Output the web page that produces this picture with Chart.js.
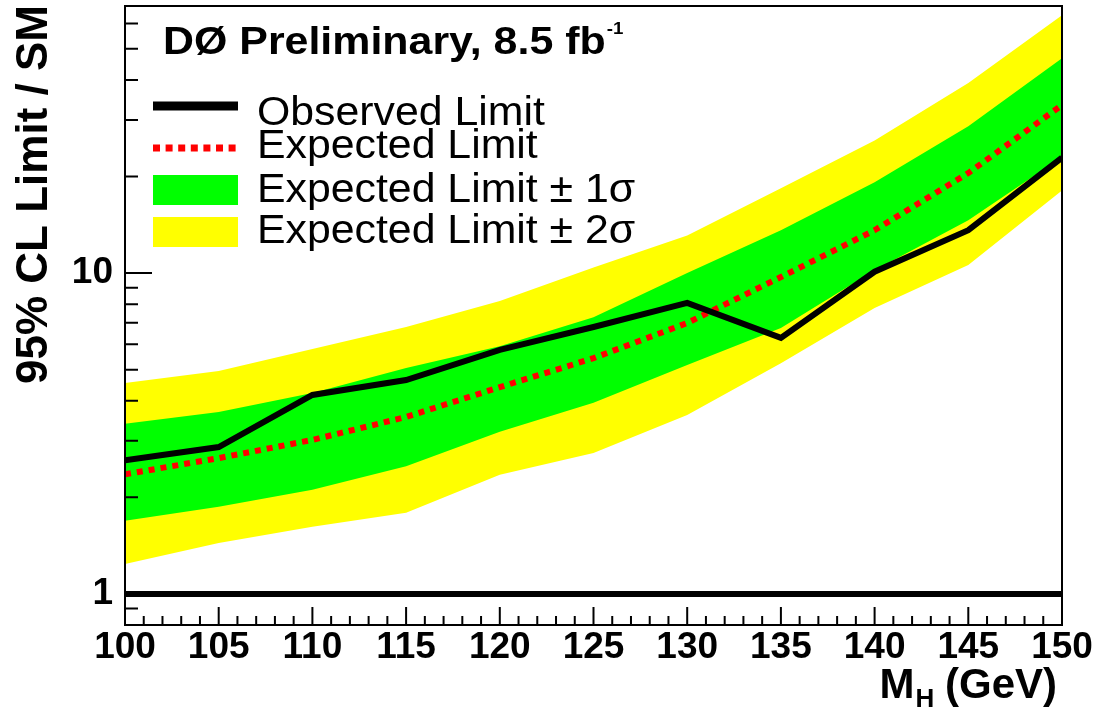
<!DOCTYPE html>
<html>
<head>
<meta charset="utf-8">
<script src="https://cdn.jsdelivr.net/npm/chart.js@4.4.1/dist/chart.umd.min.js"></script>
<style>
  html, body { margin: 0; padding: 0; background: #fff; }
  #wrap { width: 1097px; height: 708px; }
</style>
</head>
<body>
<div id="wrap"><canvas id="limitChart"></canvas></div>
<script>
// Higgs mass points (GeV) and 95% CL limits / SM
const massPoints    = [100, 105, 110, 115, 120, 125, 130, 135, 140, 145, 150];
const observedLimit = [2.61, 2.87, 4.17, 4.64, 5.76, 6.79, 8.07, 6.28, 10.1, 13.6, 22.9];
const expectedLimit = [2.36, 2.65, 3.02, 3.56, 4.41, 5.43, 6.99, 9.72, 13.6, 20.5, 33.4];
const plusOneSigma  = [3.39, 3.69, 4.23, 5.06, 5.92, 7.29, 10.0, 13.6, 19.2, 28.7, 46.7];
const minusOneSigma = [1.69, 1.87, 2.11, 2.50, 3.20, 3.94, 5.17, 6.74, 10.2, 14.6, 23.0];
const plusTwoSigma  = [4.54, 4.95, 5.80, 6.79, 8.18, 10.4, 13.1, 18.4, 25.9, 39.1, 63.6];
const minusTwoSigma = [1.24, 1.44, 1.62, 1.79, 2.35, 2.75, 3.61, 5.24, 7.78, 10.6, 18.1];
const smLine = [1, 1];
const smRange = [100, 150];
const yTickLabels = [1, 10];

const FONT = "'Liberation Sans', Arial, Helvetica, sans-serif";

function pts(values, xs = massPoints) {
  return values.map((v, i) => ({ x: xs[i], y: v }));
}

// ROOT-like frame, inward ticks, titles and legend
const rootStyle = {
  id: 'rootStyle',
  afterDraw(chart) {
    const { ctx, chartArea: a, scales: { x, y } } = chart;
    const ds = chart.data.datasets;
    ctx.save();

    // frame
    ctx.strokeStyle = '#000';
    ctx.lineWidth = 2;
    ctx.strokeRect(a.left, a.top, a.right - a.left, a.bottom - a.top);

    // x ticks (inward, every 1 GeV, major every 5)
    ctx.beginPath();
    for (let m = x.min; m <= x.max; m++) {
      const px = x.getPixelForValue(m);
      const len = m % 5 === 0 ? 18 : 9;
      ctx.moveTo(px, a.bottom);
      ctx.lineTo(px, a.bottom - len);
    }
    // y ticks (log decades)
    [0.1, 1, 10].forEach(dec => {
      for (let k = 1; k <= 9; k++) {
        const v = k * dec;
        if (v < y.min || v > y.max) continue;
        const py = y.getPixelForValue(v);
        const len = k === 1 ? 27 : 13;
        ctx.moveTo(a.left, py);
        ctx.lineTo(a.left + len, py);
      }
    });
    ctx.stroke();

    ctx.fillStyle = '#000';
    // y title
    ctx.save();
    ctx.translate(47, a.top - 1);
    ctx.rotate(-Math.PI / 2);
    ctx.font = `bold 44px ${FONT}`;
    ctx.textAlign = 'right';
    ctx.textBaseline = 'alphabetic';
    ctx.fillText('95% CL Limit / SM', 0, 0);
    ctx.restore();

    // x title M_H (GeV)
    ctx.textBaseline = 'alphabetic';
    ctx.textAlign = 'left';
    ctx.font = `bold 42px ${FONT}`;
    const wM = ctx.measureText('M').width;
    const wRest = ctx.measureText(' (GeV)').width;
    ctx.font = `bold 26px ${FONT}`;
    const wH = ctx.measureText('H').width;
    let tx = 1057 - wM - wH - wRest;
    ctx.font = `bold 42px ${FONT}`;
    ctx.fillText('M', tx, 698);
    ctx.font = `bold 26px ${FONT}`;
    ctx.fillText('H', tx + wM + 1, 707);
    ctx.font = `bold 42px ${FONT}`;
    ctx.fillText(' (GeV)', tx + wM + wH, 698);

    // header
    ctx.save();
    ctx.translate(163, 54);
    ctx.scale(1.1, 1);
    ctx.font = `bold 39px ${FONT}`;
    ctx.fillText('D\u00D8 Preliminary, 8.5 fb', 0, 0);
    const wHead = ctx.measureText('D\u00D8 Preliminary, 8.5 fb').width;
    ctx.font = `bold 17px ${FONT}`;
    ctx.fillText('-1', wHead + 1, -20);
    ctx.restore();

    // legend
    const x0 = 153, x1 = 238, tx0 = 257;
    ctx.lineCap = 'butt';
    ctx.strokeStyle = ds[0].borderColor;
    ctx.lineWidth = 9;
    ctx.beginPath(); ctx.moveTo(x0, 106); ctx.lineTo(x1, 106); ctx.stroke();
    ctx.strokeStyle = ds[1].borderColor;
    ctx.lineWidth = 7;
    ctx.setLineDash([7, 5.6]);
    ctx.beginPath(); ctx.moveTo(x0, 148); ctx.lineTo(x1, 148); ctx.stroke();
    ctx.setLineDash([]);
    ctx.fillStyle = ds[2].backgroundColor;
    ctx.fillRect(x0, 175, x1 - x0, 30);
    ctx.fillStyle = ds[4].backgroundColor;
    ctx.fillRect(x0, 217, x1 - x0, 30);

    ctx.fillStyle = '#000';
    const rows = [[ds[0].label, 125], [ds[1].label, 158], [ds[2].label, 202], [ds[4].label, 243]];
    rows.forEach(([txt, by]) => {
      ctx.save();
      ctx.translate(tx0, by);
      ctx.scale(1.07, 1);
      ctx.font = `40px ${FONT}`;
      ctx.fillText(txt, 0, 0);
      ctx.restore();
    });

    ctx.restore();
  }
};

function limitChart() {
  const canvas = document.getElementById('limitChart');

  new Chart(canvas, {
    type: 'line',
    data: {
      datasets: [{
        label: 'Observed Limit',
        data: pts(observedLimit),
        borderColor: '#000000',
        borderWidth: 6,
        borderJoinStyle: 'miter',
        pointRadius: 0,
        fill: false
      }, {
        label: 'Expected Limit',
        data: pts(expectedLimit),
        borderColor: '#ff0000',
        borderWidth: 6,
        borderDash: [6, 6],
        borderCapStyle: 'butt',
        pointRadius: 0,
        fill: false
      }, {
        label: 'Expected Limit \u00B1 1\u03C3',
        data: pts(plusOneSigma),
        borderWidth: 0,
        backgroundColor: '#00ff00',
        pointRadius: 0,
        fill: 3
      }, {
        label: '-1 sigma',
        data: pts(minusOneSigma),
        borderWidth: 0,
        pointRadius: 0,
        fill: false
      }, {
        label: 'Expected Limit \u00B1 2\u03C3',
        data: pts(plusTwoSigma),
        borderWidth: 0,
        backgroundColor: '#ffff00',
        pointRadius: 0,
        fill: 5
      }, {
        label: '-2 sigma',
        data: pts(minusTwoSigma),
        borderWidth: 0,
        pointRadius: 0,
        fill: false
      }, {
        label: 'SM',
        data: pts(smLine, smRange),
        borderColor: '#000000',
        borderWidth: 6,
        pointRadius: 0,
        fill: false
      }]
    },
    options: {
      responsive: true,
      maintainAspectRatio: false,
      animation: false,
      devicePixelRatio: 1,
      layout: { padding: { top: 6, right: 35, left: 0, bottom: 0 } },
      elements: { line: { tension: 0 } },
      plugins: {
        legend: { display: false },
        tooltip: { enabled: false }
      },
      scales: {
        x: {
          type: 'linear',
          min: 100,
          max: 150,
          grid: { display: false, drawTicks: false },
          border: { display: false },
          ticks: {
            stepSize: 5,
            maxRotation: 0,
            autoSkip: false,
            padding: 1,
            color: '#000',
            font: { family: FONT, size: 37, weight: 'bold' }
          },
          afterFit(scale) { scale.height = 83; }
        },
        y: {
          type: 'logarithmic',
          min: 0.8,
          max: 68,
          grid: { display: false, drawTicks: false },
          border: { display: false },
          ticks: {
            autoSkip: false,
            padding: 12,
            color: '#000',
            font: { family: FONT, size: 37, weight: 'bold' },
            callback: (v) => yTickLabels.includes(v) ? String(v) : ''
          },
          afterFit(scale) {
            scale.width = 125;
            scale.paddingTop = 0;
            scale.paddingBottom = 0;
          }
        }
      }
    },
    plugins: [rootStyle]
  });
}

document.addEventListener('DOMContentLoaded', () => {
  limitChart();
});
</script>
</body>
</html>
